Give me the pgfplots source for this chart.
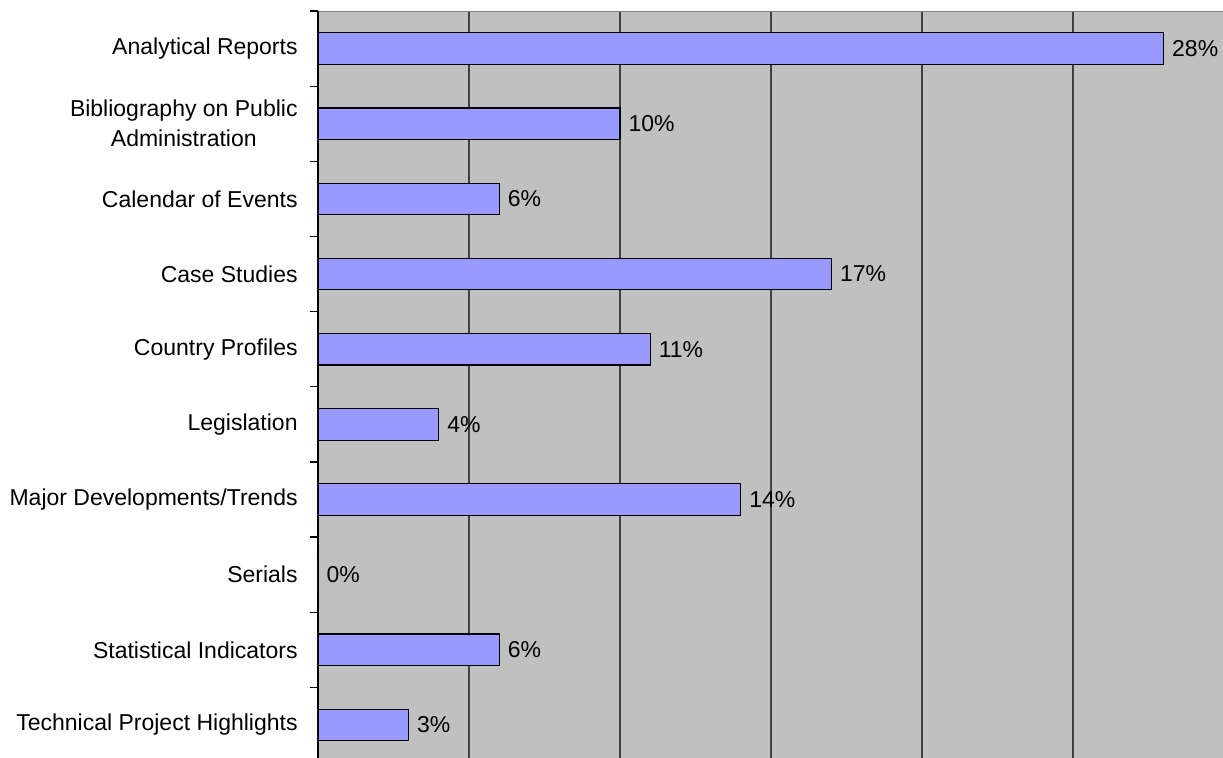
\documentclass[border=0pt]{standalone}
\usepackage{fontspec}
\setmainfont{Liberation Sans}
\usepackage{pgfplots}
\pgfplotsset{compat=1.18}
\definecolor{plotbg}{HTML}{C0C0C0}
\definecolor{barfill}{HTML}{9999FF}
\definecolor{gridc}{HTML}{404040}
\begin{document}
\begin{tikzpicture}
\begin{axis}[
  at={(0,0)}, anchor=south west,
  scale only axis,
  width=453bp, height=375.75bp,
  xmin=0, xmax=30,
  ymin=-0.5, ymax=9.5,
  y dir=reverse,
  xbar, bar width=0.42,
  axis background/.style={fill=plotbg},
  axis x line*=top, axis y line*=left,
  x axis line style={-, draw=gray, line width=0.4bp},
  y axis line style={-, draw=black, line width=0.6bp},
  xtick={5,10,...,25}, xticklabels={},
  xmajorgrids, grid style={gridc, line width=0.7bp},
  major x tick style={draw=none},
  ytick={0,...,9},
  yticklabels={Analytical Reports, {Bibliography on Public\\Administration}, Calendar of Events, Case Studies, Country Profiles, Legislation, Major Developments/Trends, Serials, Statistical Indicators, Technical Project Highlights},
  major tick length=0pt,
  minor ytick={-0.5,0.5,...,9.5},
  minor tick length=4bp,
  tick align=outside,
  minor y tick style={black, line width=0.6bp},
  yticklabel style={font=\fontsize{11.5bp}{15bp}\selectfont, align=center, inner sep=0pt, xshift=-10bp},
  /pgf/number format/assume math mode=true,
  point meta=x,
  nodes near coords={\pgfmathprintnumber{\pgfplotspointmeta}\%},
  every node near coord/.append style={font=\fontsize{11.5bp}{15bp}\selectfont, black, inner sep=0pt, xshift=4bp},
]
\addplot[fill=barfill, draw=black, line width=0.6bp] coordinates {
  (28,0) (10,1) (6,2) (17,3) (11,4) (4,5) (14,6) (0,7) (6,8) (3,9)};
\end{axis}
\pgfresetboundingbox
\path[use as bounding box] (-159bp,2.25bp) rectangle (452.5bp,381.25bp);
\end{tikzpicture}
\end{document}
